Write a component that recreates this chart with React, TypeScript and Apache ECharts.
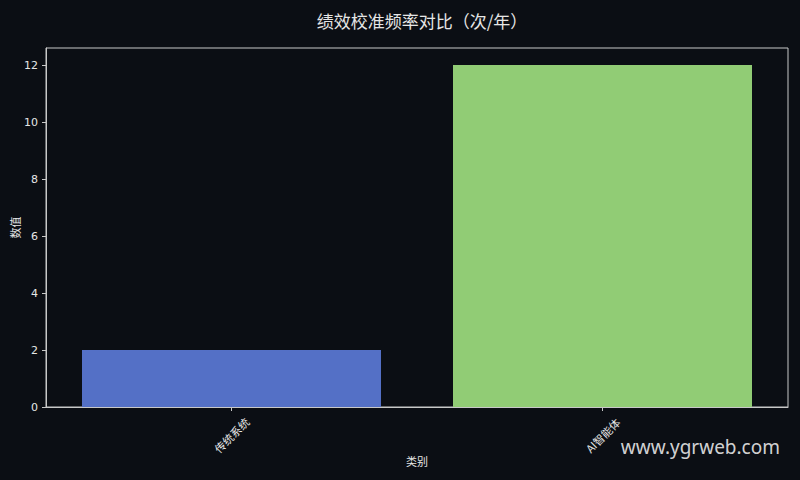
import { useEffect, useRef } from "react";
import * as echarts from "echarts";

const categories = ["传统系统", "AI智能体"];
const values = [2, 12];
const barColors = ["#5470c6", "#91cc75"];

const FONT = "'DejaVu Sans', 'Noto Sans CJK SC', sans-serif";
const CJK = "'Noto Sans CJK SC', sans-serif";
const TEXT = "#e6e6e6";
const FRAME = "#c8c8c8";

export default function App() {
  const chartRef = useRef<HTMLDivElement>(null);

  useEffect(() => {
    document.body.style.margin = "0";
    if (!chartRef.current) return;
    const chart = echarts.init(chartRef.current, null, { renderer: "svg" });

    const option = {
      animation: false,
      backgroundColor: "#0b0e14",
      textStyle: { fontFamily: FONT },
      title: {
        text: "绩效校准频率对比（次/年）",
        left: 417,
        textAlign: "center",
        top: 7,
        textStyle: { color: TEXT, fontSize: 17, fontWeight: "normal", fontFamily: CJK }
      },
      grid: {
        left: 46,
        right: 12,
        top: 48,
        bottom: 73,
        outerBoundsMode: "none",
        containLabel: false,
        show: true,
        borderColor: FRAME,
        borderWidth: 1,
        backgroundColor: "transparent"
      },
      xAxis: {
        type: "category",
        data: categories,
        name: "类别",
        nameLocation: "middle",
        nameGap: 48,
        nameMoveOverlap: false,
        nameTextStyle: { color: TEXT, fontSize: 11, fontFamily: CJK },
        axisLine: { show: true, lineStyle: { color: FRAME, width: 1 } },
        axisTick: { show: true, alignWithLabel: true, length: 4, lineStyle: { color: FRAME } },
        axisLabel: {
          color: TEXT,
          fontSize: 11,
          rotate: 45,
          align: "center",
          verticalAlign: "middle",
          margin: 28,
          fontFamily: CJK
        },
        splitLine: { show: false }
      },
      yAxis: {
        type: "value",
        min: 0,
        max: 12.6,
        interval: 2,
        name: "数值",
        nameLocation: "middle",
        nameGap: 26,
        nameMoveOverlap: false,
        nameTextStyle: { color: TEXT, fontSize: 11, fontFamily: CJK },
        axisLine: { show: true, lineStyle: { color: FRAME, width: 1 } },
        axisTick: { show: true, length: 4, lineStyle: { color: FRAME } },
        axisLabel: {
          color: TEXT,
          fontSize: 11,
          margin: 8,
          showMaxLabel: false,
          formatter: (v: number) => (v % 2 === 0 ? String(v) : "")
        },
        splitLine: { show: false }
      },
      series: [
        {
          type: "bar",
          data: values.map((v, i) => ({ value: v, itemStyle: { color: barColors[i] } })),
          barWidth: 299
        }
      ],
      graphic: [
        {
          type: "text",
          right: 20,
          top: 437,
          style: {
            text: "www.ygrweb.com",
            fill: "rgba(235,235,235,0.9)",
            fontSize: 19,
            fontFamily: "'Noto Sans', 'Open Sans', sans-serif"
          }
        }
      ]
    };

    chart.setOption(option);
    return () => {
      chart.dispose();
    };
  }, []);

  return <div ref={chartRef} style={{ width: "800px", height: "480px" }} />;
}
